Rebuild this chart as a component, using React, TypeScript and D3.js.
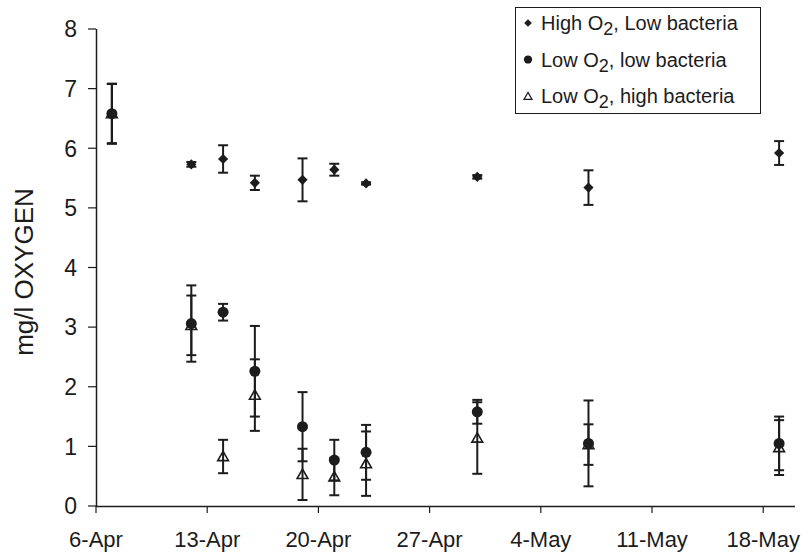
import React from "react";
import * as d3 from "d3";

// sampling days (year is arbitrary, only day/month shown)
const sampleDates = [
  "2004-04-07", "2004-04-12", "2004-04-14", "2004-04-16", "2004-04-19",
  "2004-04-21", "2004-04-23", "2004-04-30", "2004-05-07", "2004-05-19",
];
const tickDates = [
  "2004-04-06", "2004-04-13", "2004-04-20", "2004-04-27",
  "2004-05-04", "2004-05-11", "2004-05-18",
];
const yTicks = [0, 1, 2, 3, 4, 5, 6, 7, 8];

// mg/l oxygen, mean and +/- error
const highO2LowBact = [6.58, 5.73, 5.82, 5.42, 5.47, 5.64, 5.41, 5.52, 5.34, 5.92];
const highO2LowBactErr = [0.5, 0.04, 0.23, 0.12, 0.36, 0.1, 0.02, 0.03, 0.29, 0.2];
const lowO2LowBact = [6.58, 3.06, 3.25, 2.26, 1.33, 0.77, 0.9, 1.58, 1.05, 1.05];
const lowO2LowBactErr = [0.5, 0.64, 0.14, 0.76, 0.58, 0.34, 0.46, 0.2, 0.72, 0.45];
const lowO2HighBact = [6.58, 3.03, 0.83, 1.86, 0.53, 0.49, 0.71, 1.14, 1.03, 0.98];
const lowO2HighBactErr = [0.5, 0.5, 0.28, 0.6, 0.43, 0.31, 0.54, 0.6, 0.34, 0.46];

const legendPrefix = ["High O", "Low O", "Low O"];
const legendSuffix = [", Low bacteria", ", low bacteria", ", high bacteria"];

const FONT = "'Liberation Sans', Arial, Helvetica, sans-serif";
const INK = "#1c1c1c";

const parse = d3.utcParse("%Y-%m-%d");
const fmt = d3.utcFormat("%-d-%b");

const x = d3
  .scaleUtc()
  .domain([parse("2004-04-06")!, parse("2004-05-20")!])
  .range([96, 795]);
const y = d3.scaleLinear().domain([0, 8]).range([506, 29]);

const diamond = d3.symbol(d3.symbolSquare, 52)()!;
const circle = d3.symbol(d3.symbolCircle, 95)()!;
const triangle = d3.symbol(d3.symbolTriangle, 50)()!;

function Marker({ kind, scale = 1 }: { kind: string; scale?: number }) {
  if (kind === "diamond")
    return <path d={diamond} transform={`rotate(45) scale(${scale})`} fill={INK} />;
  if (kind === "circle") return <path d={circle} transform={`scale(${scale})`} fill={INK} />;
  return (
    <path
      d={triangle}
      transform={`translate(0,1) scale(${scale})`}
      fill="none"
      stroke={INK}
      strokeWidth={1.6}
    />
  );
}

function Series({ values, errs, kind }: { values: number[]; errs: number[]; kind: string }) {
  return (
    <g>
      {values.map((v, i) => {
        const cx = x(parse(sampleDates[i])!);
        const top = y(v + errs[i]);
        const bot = y(v - errs[i]);
        return (
          <g key={i}>
            <g stroke={INK} strokeWidth={2}>
              <line x1={cx} x2={cx} y1={top} y2={bot} />
              <line x1={cx - 5} x2={cx + 5} y1={top} y2={top} />
              <line x1={cx - 5} x2={cx + 5} y1={bot} y2={bot} />
            </g>
            <g transform={`translate(${cx},${y(v)})`}>
              <Marker kind={kind} />
            </g>
          </g>
        );
      })}
    </g>
  );
}

export default function App() {
  React.useEffect(() => {
    document.body.style.margin = "0";
  }, []);

  const x0 = x.range()[0];
  const x1 = x.range()[1];
  const yBase = y(0);
  const kinds = ["diamond", "circle", "triangle"];

  return (
    <svg width={802} height={552} style={{ display: "block", background: "#fff" }} fontFamily={FONT}>
      {/* y axis */}
      <line x1={x0 + 0.5} x2={x0 + 0.5} y1={y(8)} y2={yBase} stroke={INK} strokeWidth={1.5} />
      {yTicks.map((t) => (
        <g key={t}>
          <line x1={x0 - 8} x2={x0} y1={y(t)} y2={y(t)} stroke={INK} strokeWidth={1.2} />
          <text x={x0 - 19} y={y(t)} dy="0.36em" textAnchor="end" fontSize={23} fill={INK}>
            {t}
          </text>
        </g>
      ))}
      <text
        transform={`translate(33,272) rotate(-90)`}
        textAnchor="middle"
        fontSize={26}
        fill={INK}
      >
        mg/l OXYGEN
      </text>

      {/* x axis */}
      <line x1={x0} x2={x1} y1={yBase + 0.5} y2={yBase + 0.5} stroke={INK} strokeWidth={1.5} />
      {tickDates.map((d) => {
        const tx = x(parse(d)!);
        return (
          <g key={d}>
            <line x1={tx} x2={tx} y1={yBase} y2={yBase + 7} stroke={INK} strokeWidth={1.2} />
            <text x={tx} y={547} textAnchor="middle" fontSize={22} fill={INK}>
              {fmt(parse(d)!)}
            </text>
          </g>
        );
      })}

      {/* data, triangles underneath */}
      <Series values={lowO2HighBact} errs={lowO2HighBactErr} kind="triangle" />
      <Series values={lowO2LowBact} errs={lowO2LowBactErr} kind="circle" />
      <Series values={highO2LowBact} errs={highO2LowBactErr} kind="diamond" />

      {/* legend */}
      <rect x={515.5} y={7.5} width={245} height={106} fill="#fff" stroke={INK} strokeWidth={1} />
      {kinds.map((k, i) => {
        const ly = 23 + i * 36.5;
        return (
          <g key={k}>
            <g transform={`translate(528,${ly})`}>
              <Marker kind={k} scale={0.75} />
            </g>
            <text x={541} y={ly + 7} fontSize={20} fill={INK}>
              {legendPrefix[i]}
              <tspan fontSize={18} dy={5}>2</tspan>
              <tspan dy={-5}>{legendSuffix[i]}</tspan>
            </text>
          </g>
        );
      })}
    </svg>
  );
}
